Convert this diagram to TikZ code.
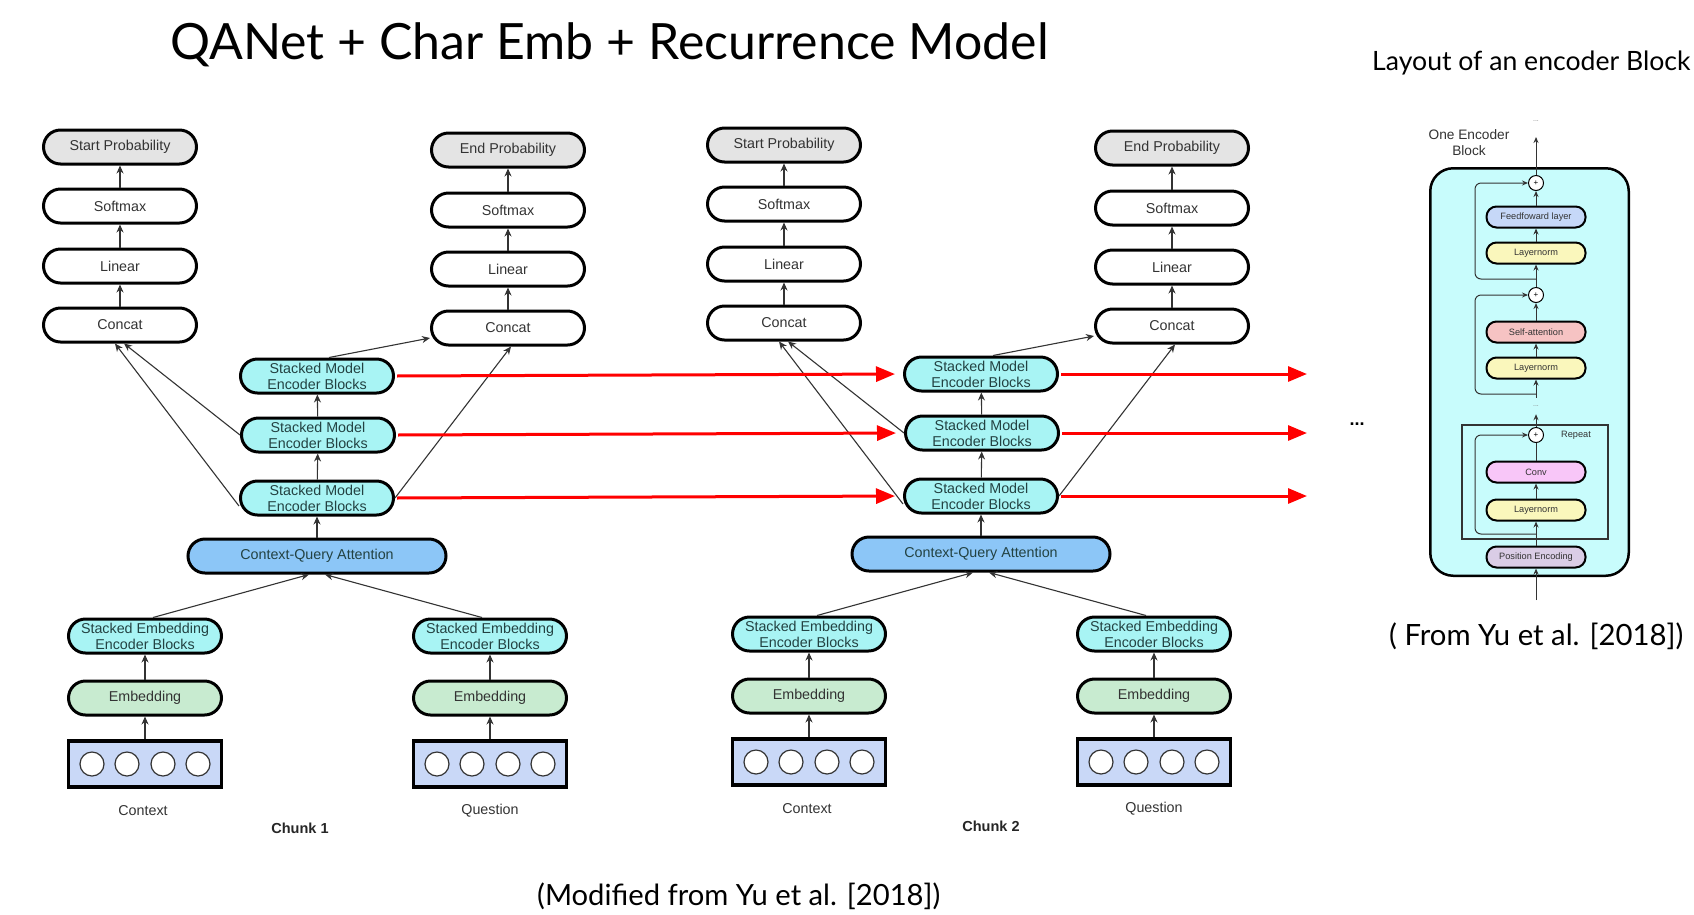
\documentclass[tikz,border=0pt]{standalone}
\usepackage{fontspec}
\setmainfont{Liberation Sans}
\newfontfamily\headfont{Lato}
\usetikzlibrary{arrows.meta}
\definecolor{ink}{HTML}{333333}
\definecolor{modelink}{HTML}{234242}
\definecolor{probgray}{HTML}{E4E4E4}
\definecolor{modelcyan}{HTML}{A8F4F4}
\definecolor{attnblue}{HTML}{8CC6F7}
\definecolor{embgreen}{HTML}{C8EBD0}
\definecolor{tokblue}{HTML}{C9D8F7}
\definecolor{panelcyan}{HTML}{C8FCFC}
\definecolor{ffblue}{HTML}{C6D8F8}
\definecolor{normyellow}{HTML}{FAF7BC}
\definecolor{attnpink}{HTML}{F6C3C3}
\definecolor{convpink}{HTML}{F8C6F8}
\definecolor{poslilac}{HTML}{DACDE6}

\begin{document}
\begin{tikzpicture}[x=1pt,y=-1pt,
  head/.style={anchor=base west,inner sep=0pt,text=black},
  box/.style={draw=black,line width=3pt,rounded corners=17pt,minimum width=153pt,minimum height=34pt,
    inner sep=0pt,align=center,text=ink,font=\fontsize{14.3}{16}\selectfont},
  prob/.style={box,fill=probgray},
  plain/.style={box,fill=white},
  model/.style={box,fill=modelcyan,text=modelink},
  cqa/.style={box,fill=attnblue,text=modelink,minimum width=258pt},
  emb/.style={box,fill=embgreen},
  tok/.style={draw=black,line width=3.5pt,fill=tokblue,minimum width=153pt,minimum height=46pt},
  word/.style={draw=ink,line width=1.2pt,fill=white},
  lbl/.style={text=ink,font=\fontsize{14.3}{16}\selectfont},
  arr/.style={draw=ink,line width=1.1pt,-{Stealth[length=8pt,width=7pt]}},
  fwd/.style={draw=red,line width=3pt,-{Triangle[length=19pt,width=15pt]}},
  panel/.style={draw=black,line width=2.5pt,fill=panelcyan,rounded corners=23pt,
    minimum width=198.5pt,minimum height=407.5pt},
  repeatbox/.style={draw=ink,line width=1.8pt,minimum width=146pt,minimum height=114pt},
  part/.style={draw=black,line width=2pt,rounded corners=10pt,minimum width=99pt,minimum height=21pt,
    inner sep=0pt,text=ink,font=\fontsize{9.2}{11}\selectfont},
  sum/.style={circle,draw=black,line width=1pt,fill=white,minimum size=15pt,inner sep=0pt,
    font=\fontsize{8}{8}\selectfont},
  gapdots/.style={text=gray,inner sep=0pt,minimum height=16pt,font=\fontsize{7}{7}\selectfont},
  parr/.style={draw=ink,line width=1pt,-{Stealth[length=6pt,width=5pt]}},
  pline/.style={draw=ink,line width=1pt}]

\path[fill=white,use as bounding box] (0,0) rectangle (1694,914);

\node[head,font=\headfont\fontsize{50}{60}\selectfont] (title) at (170,59) {QANet + Char Emb + Recurrence Model};
\node[head,font=\headfont\fontsize{26.6}{32}\selectfont] (layout) at (1372,70) {Layout of an encoder Block};
\node[head,font=\headfont\fontsize{29.2}{34}\selectfont] (src) at (537,905) {(Modified from Yu et al. [2018])};
\node[head,font=\headfont\fontsize{29.3}{34}\selectfont] (encsrc) at (1389,645) {( From Yu et al. [2018])};

\foreach \ch/\dx/\dy/\lx in {1/0/0/300,2/664/-2/327}{
\begin{scope}[shift={(\dx,\dy)}]
  \node[prob] (start\ch) at (120,147) {Start Probability};
  \node[plain] (ssoft\ch) at (120,206) {Softmax};
  \node[plain] (slin\ch) at (120,266) {Linear};
  \node[plain] (scat\ch) at (120,325) {Concat};
  \node[prob] (end\ch) at (508,150) {End Probability};
  \node[plain] (esoft\ch) at (508,210) {Softmax};
  \node[plain] (elin\ch) at (508,269) {Linear};
  \node[plain] (ecat\ch) at (508,328) {Concat};
  \node[model] (mA\ch) at (317,376) {Stacked Model\\Encoder Blocks};
  \node[model] (mB\ch) at (318,435) {Stacked Model\\Encoder Blocks};
  \node[model] (mC\ch) at (317,498) {Stacked Model\\Encoder Blocks};
  \node[cqa] (cqa\ch) at (317,556) {Context-Query Attention};
  \node[model] (ctxenc\ch) at (145,636) {Stacked Embedding\\Encoder Blocks};
  \node[model] (qenc\ch) at (490,636) {Stacked Embedding\\Encoder Blocks};
  \node[emb] (ctxemb\ch) at (145,698) {Embedding};
  \node[emb] (qemb\ch) at (490,698) {Embedding};
  \node[tok] (ctxin\ch) at (145,764) {};
  \node[tok] (qin\ch) at (490,764) {};
  \foreach \x in {92,127,163,198}
    \draw[word] (\x,764) circle[radius=12pt];
  \foreach \x in {437,472,508,543}
    \draw[word] (\x,764) circle[radius=12pt];
  \node[lbl] (ctxlbl\ch) at (143,811) {Context};
  \node[lbl] (qlbl\ch) at (490,811) {Question};
  \node[lbl,font=\bfseries\fontsize{14.5}{16}\selectfont,text=black!85] (chunk\ch) at (\lx,828) {Chunk \ch};

  \draw[arr] (scat\ch) -- (slin\ch);
  \draw[arr] (slin\ch) -- (ssoft\ch);
  \draw[arr] (ssoft\ch) -- (start\ch);
  \draw[arr] (ecat\ch) -- (elin\ch);
  \draw[arr] (elin\ch) -- (esoft\ch);
  \draw[arr] (esoft\ch) -- (end\ch);
  \draw[arr] (cqa\ch) -- (mC\ch);
  \draw[arr] (mC\ch) -- (mB\ch);
  \draw[arr] (mB\ch) -- (mA\ch);
  \draw[arr] ([yshift=-8pt]mC\ch.west) -- ([xshift=-5pt]scat\ch.south);
  \draw[arr] (mB\ch.west) -- ([xshift=4pt]scat\ch.south);
  \draw[arr] ([xshift=12pt]mA\ch.north) -- ([yshift=-10pt]ecat\ch.west);
  \draw[arr] (mC\ch.east) -- ([xshift=3pt]ecat\ch.south);
  \draw[arr] ([xshift=8pt]ctxenc\ch.north) -- ([xshift=-8pt]cqa\ch.south);
  \draw[arr] ([xshift=-8pt]qenc\ch.north) -- ([xshift=8pt]cqa\ch.south);
  \draw[arr] (ctxemb\ch) -- (ctxenc\ch);
  \draw[arr] (qemb\ch) -- (qenc\ch);
  \draw[arr] (ctxin\ch) -- (ctxemb\ch);
  \draw[arr] (qin\ch) -- (qemb\ch);
\end{scope}
}

\coordinate (tail) at (1307,430);
\foreach \r in {A,B,C}{
  \draw[fwd,shorten <=2pt,shorten >=8pt] (m\r1.east) -- (m\r2.west);
  \draw[fwd,shorten <=2pt] (m\r2.east) -- (m\r2.east -| tail);
}
\node[font=\bfseries\fontsize{18}{18}\selectfont] (more) at (1357,424) {...};

\node[panel] (encblock) at (1529.5,372) {};
\node[repeatbox] (rep) at (1535,482) {};
\node[sum] (add1) at (1536,183) {+};
\node[part,fill=ffblue] (ff) at (1536,217) {Feedfoward layer};
\node[part,fill=normyellow] (ln1) at (1536,253) {Layernorm};
\node[sum] (add2) at (1536,295) {+};
\node[part,fill=attnpink] (sa) at (1536,332) {Self-attention};
\node[part,fill=normyellow] (ln2) at (1536,368) {Layernorm};
\node[gapdots] (gap) at (1536,406) {...};
\node[sum] (add3) at (1536,435) {+};
\node[part,fill=convpink] (conv) at (1536,472) {Conv};
\node[part,fill=normyellow] (ln3) at (1536,510) {Layernorm};
\node[part,fill=poslilac] (pe) at (1536,557) {Position Encoding};
\node[gapdots] (topdots) at (1536,121) {...};
\node[text=ink,font=\fontsize{9.2}{11}\selectfont] (reptxt) at (1576,435) {Repeat};
\node[align=center,text=ink,font=\fontsize{13.7}{16}\selectfont] (enclbl) at (1469,143) {One Encoder\\Block};
\coordinate (encin) at (1536,600);
\coordinate (encout) at (1536,137);
\coordinate (skip1) at (1536,279);
\coordinate (skip2) at (1536,394);
\coordinate (skip3) at (1536,534);

\draw[parr] (encin) -- (pe);
\draw[parr] (pe) -- (ln3);
\draw[parr] (ln3) -- (conv);
\draw[pline] (conv) -- (add3);
\draw[parr] (add3) -- (gap);
\draw[parr] (gap) -- (ln2);
\draw[parr] (ln2) -- (sa);
\draw[parr] (sa) -- (add2);
\draw[parr] (add2) -- (ln1);
\draw[parr] (ln1) -- (ff);
\draw[parr] (ff) -- (add1);
\draw[parr] (add1) -- (encout);
\draw[parr,rounded corners=6pt] (skip3) -| ([xshift=-61pt]add3.center) -- (add3);
\draw[parr,rounded corners=6pt] (skip2) -| ([xshift=-61pt]add2.center) -- (add2);
\draw[parr,rounded corners=6pt] (skip1) -| ([xshift=-61pt]add1.center) -- (add1);
\end{tikzpicture}
\end{document}
